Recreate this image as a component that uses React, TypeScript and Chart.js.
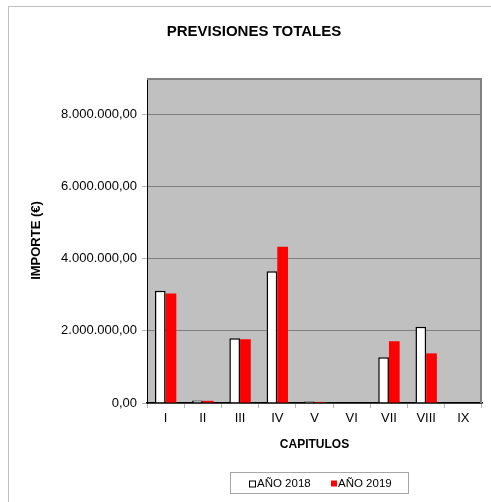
import React, { useEffect, useRef } from "react";
import { Chart, registerables } from "chart.js";

Chart.register(...registerables);

const categories = ["I", "II", "III", "IV", "V", "VI", "VII", "VIII", "IX"];
const values2018 = [3110000, 70000, 1790000, 3650000, 40000, 0, 1265000, 2112000, 0];
const values2019 = [3030000, 60000, 1765000, 4330000, 30000, 0, 1710000, 1375000, 0];
const seriesLabels = ["AÑO 2018", "AÑO 2019"];
const yTickValues = [0, 2000000, 4000000, 6000000, 8000000];
const chartTitle = "PREVISIONES TOTALES";
const xTitle = "CAPITULOS";
const yTitle = "IMPORTE (€)";
const yMin = 0;
const yMax = 9000000;

const FONT = "'Liberation Sans', Arial, sans-serif";

function fmt(v: number): string {
  const s = Math.round(v)
    .toString()
    .replace(/\B(?=(\d{3})+(?!\d))/g, ".");
  return s + ",00";
}

const framePlugin = {
  id: "framePlugin",
  beforeDraw(chart: any) {
    const { ctx, chartArea } = chart;
    ctx.save();
    ctx.strokeStyle = "#c0c0c0";
    ctx.lineWidth = 1;
    ctx.strokeRect(8.5, 6.5, 700, 700);
    ctx.fillStyle = "#c0c0c0";
    ctx.fillRect(chartArea.left, chartArea.top, chartArea.right - chartArea.left, chartArea.bottom - chartArea.top);
    ctx.restore();
  },
  afterDatasetsDraw(chart: any) {
    const { ctx, chartArea } = chart;
    ctx.save();
    ctx.strokeStyle = "#808080";
    ctx.lineWidth = 2;
    ctx.beginPath();
    ctx.moveTo(chartArea.left, chartArea.top + 1);
    ctx.lineTo(chartArea.right - 1, chartArea.top + 1);
    ctx.lineTo(chartArea.right - 1, chartArea.bottom);
    ctx.stroke();
    ctx.restore();
  },
  afterDraw(chart: any) {
    const { ctx } = chart;
    const ds = chart.data.datasets;
    ctx.save();
    ctx.strokeStyle = "#a6a6a6";
    ctx.lineWidth = 1;
    ctx.strokeRect(230.5, 472.5, 178, 21);
    ctx.font = "11.5px " + FONT;
    ctx.textBaseline = "alphabetic";
    ctx.fillStyle = "#000";
    const items = [
      { mx: 249.5, tx: 257 },
      { mx: 331, tx: 338 },
    ];
    items.forEach((it, i) => {
      const d = ds[i];
      if (d.borderWidth && d.borderWidth > 0) {
        ctx.fillStyle = d.backgroundColor;
        ctx.fillRect(it.mx, 481, 6, 6);
        ctx.strokeStyle = d.borderColor;
        ctx.lineWidth = 1;
        ctx.strokeRect(it.mx, 481, 6, 6);
      } else {
        ctx.fillStyle = d.backgroundColor;
        ctx.fillRect(it.mx, 480.5, 6, 6);
      }
      ctx.fillStyle = "#000";
      ctx.fillText(d.label, it.tx, 486.5);
    });
    ctx.restore();
  },
};

export default function App() {
  const ref = useRef<HTMLCanvasElement | null>(null);

  useEffect(() => {
    if (!ref.current) return;
    const chart = new Chart(ref.current, {
      type: "bar",
      data: {
        labels: categories,
        datasets: [
          {
            label: seriesLabels[0],
            data: values2018,
            backgroundColor: "#ffffff",
            borderColor: "#000000",
            borderWidth: 1.5,
            categoryPercentage: 0.575,
            barPercentage: 1,
          },
          {
            label: seriesLabels[1],
            data: values2019,
            backgroundColor: "#ff0000",
            borderColor: "#ff0000",
            borderWidth: 0,
            categoryPercentage: 0.575,
            barPercentage: 1,
          },
        ],
      },
      options: {
        responsive: false,
        animation: false,
        devicePixelRatio: 1,
        layout: { padding: { top: 0, left: 26, right: 9, bottom: 44 } },
        plugins: {
          legend: { display: false },
          tooltip: { enabled: false },
          title: {
            display: true,
            text: chartTitle,
            color: "#000",
            font: { family: FONT, size: 15, weight: "bold" },
            padding: { top: 23, bottom: 37 },
          },
        },
        scales: {
          x: {
            grid: {
              display: true,
              drawOnChartArea: false,
              drawTicks: true,
              tickLength: 5,
              tickColor: "#b4b4b4",
              offset: true,
            },
            border: { display: true, color: "#000", width: 1.5 },
            ticks: {
              color: "#000",
              font: { family: FONT, size: 13 },
              padding: 3,
              maxRotation: 0,
              autoSkip: false,
            },
            title: {
              display: true,
              text: xTitle,
              color: "#000",
              font: { family: FONT, size: 12, weight: "bold" },
              padding: { top: 0, bottom: 6 },
            },
            afterFit(scale: any) {
              scale.height = 55;
            },
          },
          y: {
            min: yMin,
            max: yMax,
            grid: {
              color: "#808080",
              lineWidth: 1,
              tickLength: 5,
              tickColor: "#b4b4b4",
            },
            border: { display: true, color: "#000", width: 1 },
            ticks: {
              color: "#000",
              font: { family: FONT, size: 13 },
              padding: 5,
              callback: (v: any) => fmt(Number(v)),
            },
            afterBuildTicks(scale: any) {
              scale.ticks = yTickValues.map((v) => ({ value: v }));
            },
            title: {
              display: true,
              text: yTitle,
              color: "#000",
              font: { family: FONT, size: 13, weight: "bold" },
              padding: { top: 3, bottom: 0 },
            },
            afterFit(scale: any) {
              scale.width = 121;
            },
          },
        },
      },
      plugins: [framePlugin],
    } as any);
    return () => chart.destroy();
  }, []);

  return (
    <div style={{ position: "fixed", left: 0, top: 0, width: 491, height: 502, background: "#fff" }}>
      <canvas ref={ref} width={491} height={502} style={{ display: "block" }} />
    </div>
  );
}
